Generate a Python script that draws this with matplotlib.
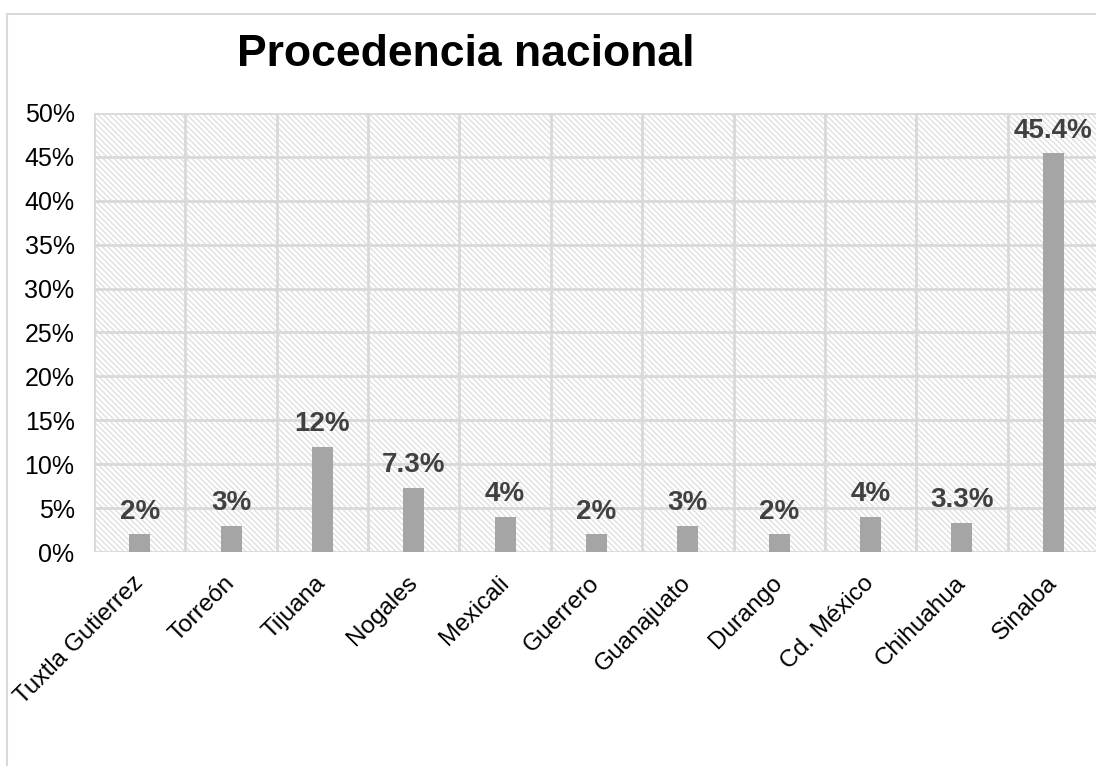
import matplotlib
matplotlib.use('Agg')
import matplotlib.pyplot as plt
import numpy as np
from matplotlib.patches import Rectangle
from matplotlib.ticker import PercentFormatter

plt.rcParams['font.family'] = ['Liberation Sans', 'DejaVu Sans']
plt.rcParams['hatch.linewidth'] = 1.0

# Data
cities = ['Tuxtla Gutierrez', 'Torreón', 'Tijuana', 'Nogales', 'Mexicali', 'Guerrero',
          'Guanajuato', 'Durango', 'Cd. México', 'Chihuahua', 'Sinaloa']
shares = [2, 3, 12, 7.3, 4, 2, 3, 2, 4, 3.3, 45.4]
labels = ['2%', '3%', '12%', '7.3%', '4%', '2%', '3%', '2%', '4%', '3.3%', '45.4%']

fig = plt.figure(figsize=(10.96, 7.66), dpi=100)

# outer chart border (cut off at right and bottom like the reference)
fig.patches.append(Rectangle((7 / 1096, -0.1), 1.1, 1.1 - 14 / 766,
                             transform=fig.transFigure, fill=False,
                             edgecolor='#d9d9d9', linewidth=1.5))

ax = fig.add_axes([94 / 1096, (766 - 552) / 766, (1099 - 94) / 1096, (552 - 113) / 766])

# hatched plot area background
ax.add_patch(Rectangle((0, 0), 1, 1, transform=ax.transAxes, facecolor='white',
                       hatch='\\\\\\\\\\\\', edgecolor='#e0e0e0', linewidth=0, zorder=0))

x = np.arange(len(cities))
ax.bar(x, shares, width=0.23, color='#a5a5a5', zorder=3)

for xi, v, lab in zip(x, shares, labels):
    ax.annotate(lab, (xi, v), xytext=(0, 7), textcoords='offset points',
                ha='center', va='bottom', fontsize=20, fontweight='bold', color='#404040')

ax.set_xlim(-0.5, 10.5)
ax.set_ylim(0, 50)
ax.set_yticks(np.arange(0, 51, 5))
ax.yaxis.set_major_formatter(PercentFormatter(decimals=0))
ax.set_xticks(x)
ax.set_xticklabels(cities, rotation=45, ha='right', va='center', rotation_mode='anchor')
ax.set_xticks(np.arange(-0.5, 11, 1), minor=True)

ax.grid(axis='y', which='major', color='#d9d9d9', linewidth=2, zorder=1)
ax.grid(axis='x', which='minor', color='#d9d9d9', linewidth=2, zorder=1)
ax.set_axisbelow(True)

ax.tick_params(axis='both', which='both', length=0)
ax.tick_params(axis='y', labelsize=18, pad=14)
ax.tick_params(axis='x', labelsize=17.5, pad=20)

for s in ax.spines.values():
    s.set_visible(False)

fig.text(466 / 1096, 1 - 54 / 766, 'Procedencia nacional', ha='center', va='center',
         fontsize=32, fontweight='bold', color='black')

fig.savefig('out.png', dpi=100)
